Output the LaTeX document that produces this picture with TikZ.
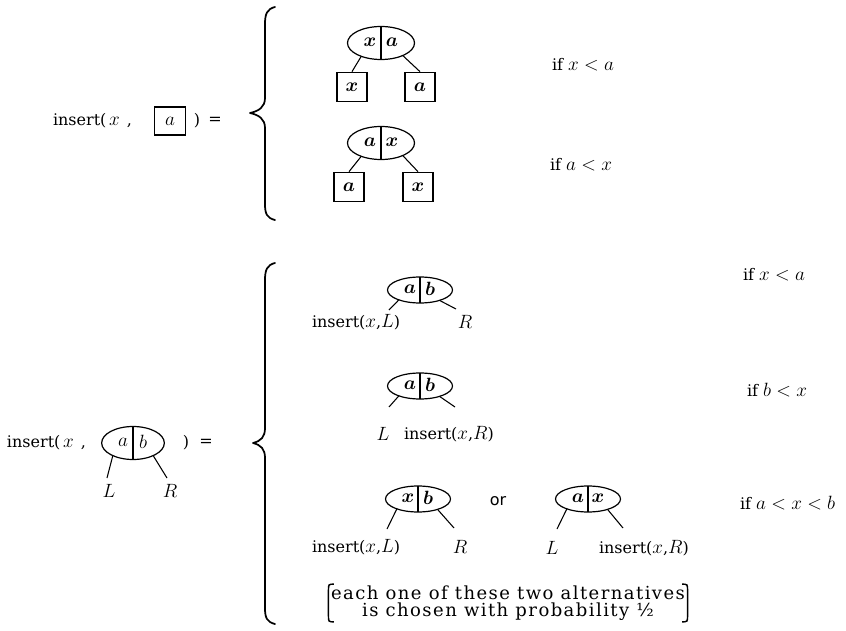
\documentclass[tikz,border=0pt]{standalone}
\usepackage{amsmath}
\usepackage{fontspec}
\setmainfont{DejaVu Serif}
\newfontfamily\orfont{DejaVu Sans}
\newfontfamily\notefont[LetterSpace=8]{DejaVu Serif}
\usetikzlibrary{shapes.geometric}
% math letters set a little larger than the surrounding roman text
\newcommand\mv[1]{{\fontsize{14}{16}\selectfont$#1$}}

\begin{document}
\begin{tikzpicture}[x=0.75pt,y=-0.75pt,
  txt/.style={inner sep=0pt, outer sep=0pt, font=\fontsize{12}{14}\selectfont},
  cond/.style={txt, anchor=west},
  keytxt/.style={inner sep=0pt, font=\fontsize{14}{16}\selectfont},
  leafbox/.style={draw, line width=1pt, inner sep=0pt, minimum width=22.5pt, minimum height=22pt,
                  font=\fontsize{14}{16}\selectfont},
  bignode/.style={draw, ellipse, line width=0.9pt, inner sep=0pt, outer sep=0pt,
                  minimum width=50.25pt, minimum height=24.75pt},
  smallnode/.style={draw, ellipse, line width=0.9pt, inner sep=0pt, outer sep=0pt,
                  minimum width=48.75pt, minimum height=19.5pt},
  divider/.style={line width=0.9pt},
  branch/.style={line width=0.8pt},
  bracestroke/.style={line width=1.3pt, line cap=round, line join=round},
]
\fill[white] (0,0) rectangle (846,631);
\useasboundingbox (0,0) rectangle (846,631);

% ---------- insert into a leaf ----------
\node[txt, anchor=west] (ins1) at (53,121) {insert(\,\mv{x}\;\,,};
\node[leafbox, minimum width=23.25pt, minimum height=21pt] (arg1) at (170,121) {$a$};
\node[txt] (close1) at (197,121) {)};
\node[txt] (eq1) at (215,121) {=};

\draw[bracestroke] (275,7) .. controls (267,9) and (265,14) .. (265,24)
  -- (265,98) .. controls (265,107) and (259,111) .. (250,113)
  .. controls (259,115) and (265,119) .. (265,128)
  -- (265,204) .. controls (265,214) and (267,218) .. (275,220);

% first case: x < a
\node[bignode] (e1) at (381,43) {};
\draw[divider] (e1.north) -- (e1.south);
\node[keytxt] (e1l) at (370,42) {$\boldsymbol{x}$};
\node[keytxt] (e1r) at (392,42) {$\boldsymbol{a}$};
\node[leafbox] (bx1) at (352,87) {$\boldsymbol{x}$};
\node[leafbox] (ba1) at (420,87) {$\boldsymbol{a}$};
\draw[branch] (e1.214) -- (bx1.north);
\draw[branch] (e1.-30) -- (ba1.north);
\node[cond] (c1) at (552,65) {if \mv{x<a}};

% second case: a < x
\node[bignode] (e2) at (381,143) {};
\draw[divider] (e2.north) -- (e2.south);
\node[keytxt] (e2l) at (370,142) {$\boldsymbol{a}$};
\node[keytxt] (e2r) at (392,142) {$\boldsymbol{x}$};
\node[leafbox] (ba2) at (349,187) {$\boldsymbol{a}$};
\node[leafbox] (bx2) at (418,187) {$\boldsymbol{x}$};
\draw[branch] (e2.214) -- (ba2.north);
\draw[branch] (e2.-30) -- (bx2.north);
\node[cond] (c2) at (550,165) {if \mv{a<x}};

% ---------- insert into an internal node ----------
\node[txt, anchor=west] (ins2) at (7,443) {insert(\,\mv{x}\;\,,};
\node[bignode, minimum width=47pt] (arg2) at (133,443) {};
\draw[divider] (arg2.north) -- (arg2.south);
\node[keytxt] (arg2l) at (123,442) {$a$};
\node[keytxt] (arg2r) at (143,442) {$b$};
\coordinate (arg2Lend) at (107,478);
\coordinate (arg2Rend) at (167,478);
\draw[branch] (arg2.212) -- (arg2Lend);
\draw[branch] (arg2.-32) -- (arg2Rend);
\node[keytxt] (arg2L) at (109,491) {$L$};
\node[keytxt] (arg2R) at (170,491) {$R$};
\node[txt] (close2) at (186,443) {)};
\node[txt] (eq2) at (206,443) {=};

\draw[bracestroke] (275,263) .. controls (267,265) and (265,270) .. (265,280)
  -- (265,428) .. controls (265,437) and (261,441) .. (253,443)
  .. controls (261,445) and (265,449) .. (265,458)
  -- (265,608) .. controls (265,618) and (267,622) .. (275,624);

% case x < a
\node[smallnode] (eA) at (420,290) {};
\draw[divider] (eA.north) -- (eA.south);
\node[keytxt] (eAl) at (410,289) {$\boldsymbol{a}$};
\node[keytxt] (eAr) at (430,289) {$\boldsymbol{b}$};
\coordinate (eAL) at (389,310);
\coordinate (eAR) at (456,309);
\draw[branch] (eA.205) -- (eAL);
\draw[branch] (eA.-28) -- (eAR);
\node[txt, anchor=west] (eAlab1) at (312,322) {insert(\mv{x},\mv{L})};
\node[keytxt] (eAlab2) at (465,322) {$R$};
\node[cond] (c3) at (743,275) {if \mv{x<a}};

% case b < x
\node[smallnode] (eB) at (420,386) {};
\draw[divider] (eB.north) -- (eB.south);
\node[keytxt] (eBl) at (410,385) {$\boldsymbol{a}$};
\node[keytxt] (eBr) at (430,385) {$\boldsymbol{b}$};
\coordinate (eBL) at (389,407);
\coordinate (eBR) at (455,407);
\draw[branch] (eB.205) -- (eBL);
\draw[branch] (eB.-28) -- (eBR);
\node[keytxt] (eBlab1) at (383,434) {$L$};
\node[txt, anchor=west] (eBlab2) at (404,434) {insert(\mv{x},\mv{R})};
\node[cond] (c4) at (747,390) {if \mv{b<x}};

% case a < x < b: two alternatives
\node[smallnode] (eC) at (418,499) {};
\draw[divider] (eC.north) -- (eC.south);
\node[keytxt] (eCl) at (408,498) {$\boldsymbol{x}$};
\node[keytxt] (eCr) at (428,498) {$\boldsymbol{b}$};
\coordinate (eCL) at (387,529);
\coordinate (eCR) at (454,528);
\draw[branch] (eC.205) -- (eCL);
\draw[branch] (eC.-28) -- (eCR);
\node[txt, anchor=west] (eClab1) at (312,547) {insert(\mv{x},\mv{L})};
\node[keytxt] (eClab2) at (460,547) {$R$};

\node[txt, font=\orfont\fontsize{12}{14}\selectfont] (or) at (498,501) {or};

\node[smallnode] (eD) at (588,499) {};
\draw[divider] (eD.north) -- (eD.south);
\node[keytxt] (eDl) at (578,498) {$\boldsymbol{a}$};
\node[keytxt] (eDr) at (598,498) {$\boldsymbol{x}$};
\coordinate (eDL) at (557,529);
\coordinate (eDR) at (623,528);
\draw[branch] (eD.205) -- (eDL);
\draw[branch] (eD.-28) -- (eDR);
\node[keytxt] (eDlab1) at (552,548) {$L$};
\node[txt, anchor=west] (eDlab2) at (599,548) {insert(\mv{x},\mv{R})};
\node[cond] (c5) at (740,503) {if \mv{a<x<b}};

% remark in tall brackets
\node[txt, align=center, font=\notefont\fontsize{13.5}{13}\selectfont] (note) at (508,603)
  {each one of these two alternatives\\is chosen with probability ½};
\draw[line width=1.1pt] ([xshift=2pt,yshift=1pt]note.north west)
  .. controls ([xshift=-2pt,yshift=1pt]note.north west) .. ([xshift=-2pt,yshift=-4pt]note.north west)
  -- ([xshift=-2pt,yshift=4pt]note.south west)
  .. controls ([xshift=-2pt,yshift=-1pt]note.south west) .. ([xshift=2pt,yshift=-1pt]note.south west);
\draw[line width=1.1pt] ([xshift=-2pt,yshift=1pt]note.north east)
  .. controls ([xshift=2pt,yshift=1pt]note.north east) .. ([xshift=2pt,yshift=-4pt]note.north east)
  -- ([xshift=2pt,yshift=4pt]note.south east)
  .. controls ([xshift=2pt,yshift=-1pt]note.south east) .. ([xshift=-2pt,yshift=-1pt]note.south east);
\end{tikzpicture}
\end{document}
